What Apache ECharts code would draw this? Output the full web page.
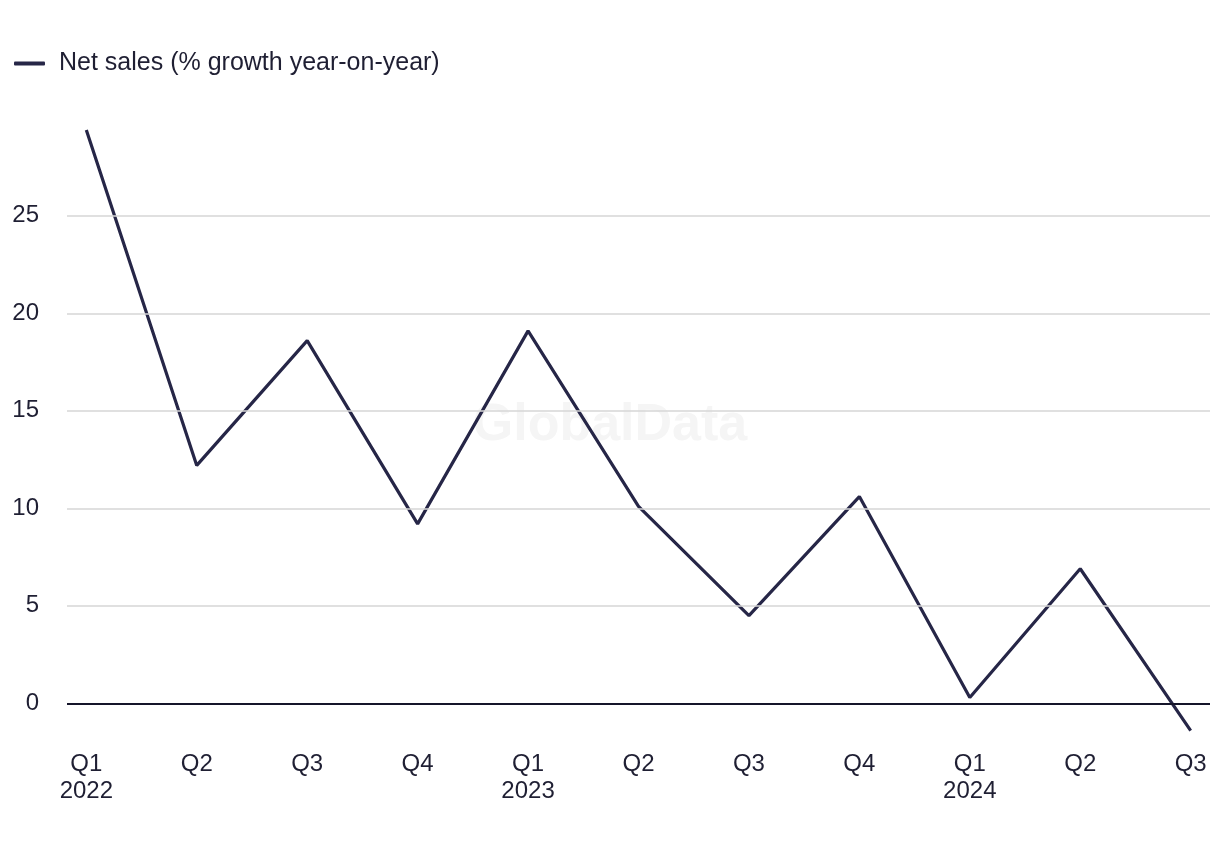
<!DOCTYPE html>
<html>
<head>
<meta charset="utf-8">
<script src="https://cdn.jsdelivr.net/npm/echarts@6/dist/echarts.min.js"></script>
<style>
html,body{margin:0;padding:0;background:#fff;}
#chart{width:1220px;height:850px;}
</style>
</head>
<body>
<div id="chart"></div>
<script>
var quarters = ['Q1','Q2','Q3','Q4','Q1','Q2','Q3','Q4','Q1','Q2','Q3'];
var years = ['2022','','','','2023','','','','2024','',''];
var netSales = [29.4, 12.2, 18.6, 9.2, 19.1, 10.1, 4.5, 10.6, 0.3, 6.9, -1.4];
var yTicks = [0, 5, 10, 15, 20, 25];
var seriesName = 'Net sales (% growth year-on-year)';

var categories = quarters.map(function(q, i){ return years[i] ? q + '\n' + years[i] : q; });
var points = netSales.map(function(v, i){ return [i, v]; });

var FONT = '"Liberation Sans", Arial, sans-serif';
var chart = echarts.init(document.getElementById('chart'));
chart.setOption({
  animation: false,
  backgroundColor: '#ffffff',
  textStyle: { fontFamily: FONT },
  graphic: [{
    type: 'text', left: 'center', top: 400, z: 0, silent: true,
    style: { text: 'GlobalData', fill: '#f5f5f5', font: 'bold 52px ' + FONT }
  }],
  legend: {
    data: [seriesName],
    left: 9, top: 46,
    icon: 'roundRect', itemWidth: 31, itemHeight: 4, itemGap: 10,
    textStyle: { fontSize: 25, color: '#1f1f33', padding: [0, 0, 0, 9], fontFamily: FONT }
  },
  grid: { left: 67, right: 10, top: 118.3, height: 624, containLabel: false },
  xAxis: {
    type: 'value', min: -0.175, max: 10.175, minInterval: 1, maxInterval: 1,
    axisLine: { show: false }, axisTick: { show: false }, splitLine: { show: false },
    axisLabel: {
      margin: 9, fontSize: 24, color: '#1f1f33', lineHeight: 27, fontFamily: FONT,
      showMinLabel: false, showMaxLabel: false,
      formatter: function(v){ return (Math.abs(v - Math.round(v)) < 1e-6 && v >= 0 && v < categories.length) ? categories[Math.round(v)] : ''; }
    }
  },
  yAxis: {
    type: 'value', min: -2, max: 30,
    axisLine: { show: false }, axisTick: { show: false }, splitLine: { show: false },
    axisLabel: {
      margin: 28, fontSize: 24, color: '#1f1f33', fontFamily: FONT,
      formatter: function(v){ return yTicks.indexOf(v) >= 0 ? String(v) : ''; }
    }
  },
  series: [
    {
      name: 'grid', type: 'line', data: [], z: 1, silent: true,
      markLine: {
        silent: true, symbol: 'none', label: { show: false }, animation: false,
        data: yTicks.map(function(t){
          return { yAxis: t, lineStyle: t === 0 ? { color: '#15152a', width: 2, type: 'solid' } : { color: '#d6d6d6', width: 1.5, type: 'solid' } };
        })
      }
    },
    {
      name: seriesName, type: 'line', data: points, z: 3,
      symbol: 'none', showSymbol: false,
      lineStyle: { color: '#262647', width: 3.2 },
      itemStyle: { color: '#262647' }
    }
  ]
});
</script>
</body>
</html>
